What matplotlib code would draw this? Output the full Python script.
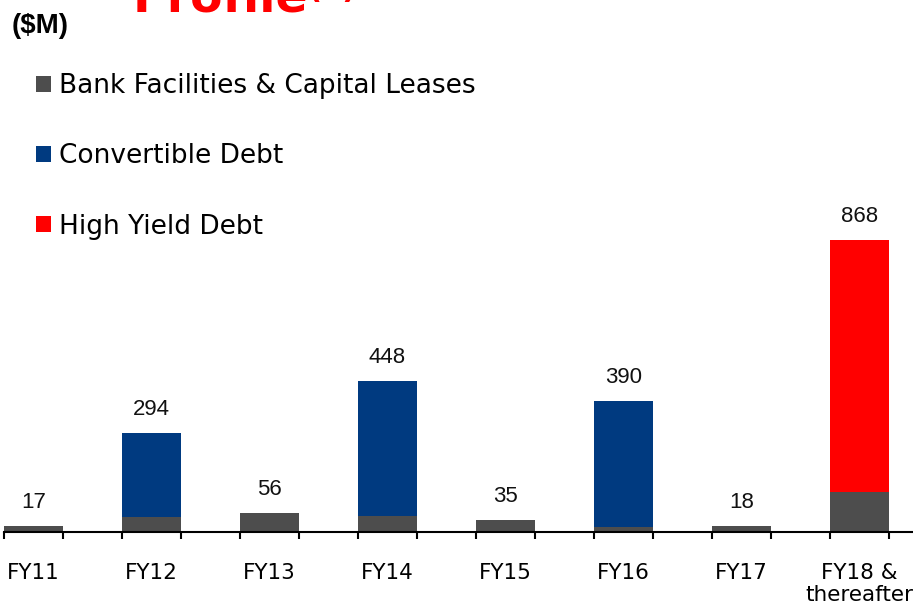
import numpy as np
import matplotlib
matplotlib.use("Agg")
import matplotlib.pyplot as plt

# debt maturity profile, $M
years = ["FY11", "FY12", "FY13", "FY14", "FY15", "FY16", "FY17", "FY18 &\nthereafter"]
bank = [17, 44, 56, 48, 35, 15, 18, 118]
convertible = [0, 250, 0, 400, 0, 375, 0, 0]
high_yield = [0, 0, 0, 0, 0, 0, 0, 750]
totals = [17, 294, 56, 448, 35, 390, 18, 868]

c_bank = "#4d4d4d"
c_conv = "#003a80"
c_hy = "#ff0000"

W, H = 913, 603
fig = plt.figure(figsize=(W / 100, H / 100), dpi=100)
# axes placed in pixels: baseline at y=532, one category = 118 px
ax = fig.add_axes([4 / W, (H - 532) / H, 909 / W, 336 / H])

x = np.arange(len(years))
bank = np.array(bank)
convertible = np.array(convertible)
high_yield = np.array(high_yield)

ax.bar(x, bank, width=0.5, color=c_bank, label="Bank Facilities & Capital Leases")
ax.bar(x, convertible, width=0.5, bottom=bank, color=c_conv, label="Convertible Debt")
ax.bar(x, high_yield, width=0.5, bottom=bank + convertible, color=c_hy, label="High Yield Debt")

for i in range(len(x)):
    ax.annotate(str(totals[i]), (x[i], totals[i]), xytext=(0, 17), textcoords="offset points",
                ha="center", va="center", fontsize=16, family="Liberation Sans", color="#111111")

ax.set_xlim(-0.25, -0.25 + 909 / 118)
ax.set_ylim(0, 1000)

for s in ["top", "right", "left"]:
    ax.spines[s].set_visible(False)
ax.spines["bottom"].set_linewidth(1.5)
ax.set_yticks([])

ax.set_xticks(np.arange(-0.25, 7.3, 0.5))
ax.set_xticklabels([])
ax.tick_params(axis="x", which="major", direction="out", length=5, width=1.5)
ax.set_xticks(x, minor=True)
ax.set_xticklabels(years, minor=True, fontsize=15.5, linespacing=1.12)
ax.tick_params(axis="x", which="minor", length=0, pad=22.5)

leg = fig.legend(loc="upper left", bbox_to_anchor=(36 / W, 1 - 73 / H), frameon=False,
                 fontsize=19, handlelength=0.56, handleheight=0.56, handletextpad=0.3,
                 labelspacing=1.68, borderpad=0, borderaxespad=0)

fig.text(12 / W, 1 - 26 / H, "($M)", fontsize=20, fontweight="bold",
         family="Liberation Sans", va="center", ha="left")
fig.text(133 / W, 1 - 11 / H, "Profile", fontsize=34, fontweight="bold",
         color="#ff0000", va="baseline", ha="left")
fig.text(307 / W, 1 + 2 / H, "(1)", fontsize=22, fontweight="bold",
         color="#ff0000", va="baseline", ha="left")

fig.savefig("out.png", dpi=100)
